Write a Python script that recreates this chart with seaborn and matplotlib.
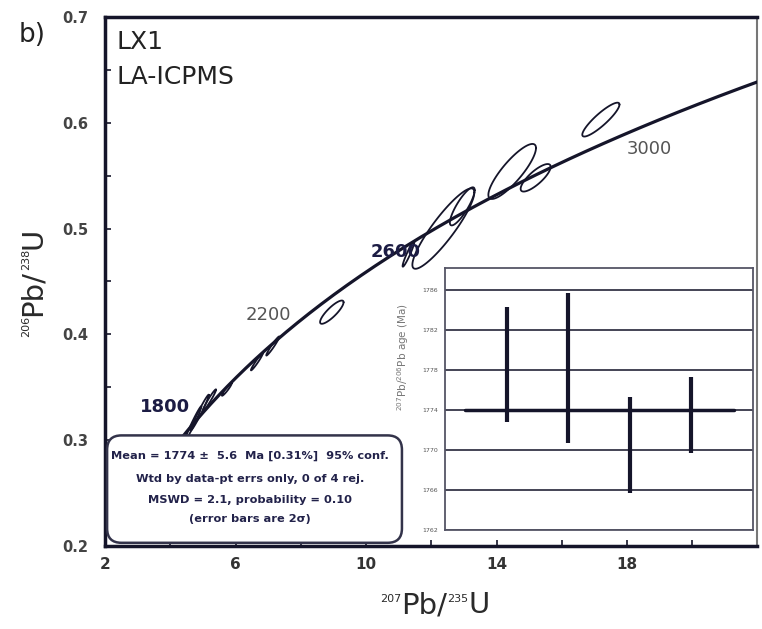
import numpy as np
import matplotlib
matplotlib.use("Agg")
import matplotlib.pyplot as plt
from matplotlib.patches import FancyBboxPatch
import seaborn as sns
import pandas as pd

sns.set_style("ticks")
plt.rcParams['font.family'] = ['DejaVu Sans']

# ---------------- data ----------------
# concordia ages (Ma) and decay constants
concordia_ages = np.arange(1500, 3301, 10)
lambda238 = 1.55125e-4   # per Ma
lambda235 = 9.8485e-4    # per Ma
label_ages = ["1800", "2200", "2600", "3000"]
label_x = [3.85, 7.0, 10.9, 18.7]
label_y = [0.331, 0.418, 0.478, 0.575]
label_bold = [True, False, True, False]

# error ellipses: centre x (207/235), centre y (206/238), half-extent x, half-extent y, rho
ell_x = [17.2, 14.48, 15.2, 12.37, 12.95, 11.3, 8.95, 7.14, 6.65, 5.73, 5.2, 4.9, 4.7]
ell_y = [0.603, 0.554, 0.548, 0.500, 0.521, 0.476, 0.421, 0.389, 0.374, 0.348, 0.338, 0.326, 0.316]
ell_sx = [0.57, 0.73, 0.46, 0.95, 0.38, 0.18, 0.36, 0.2, 0.18, 0.15, 0.2, 0.28, 0.25]
ell_sy = [0.016, 0.026, 0.013, 0.038, 0.018, 0.012, 0.011, 0.009, 0.008, 0.006, 0.010, 0.017, 0.016]
ell_rho = [0.89, 0.85, 0.80, 0.90, 0.85, 0.95, 0.85, 0.97, 0.97, 0.95, 0.97, 0.98, 0.98]

# weighted mean inset
wm_index = [1, 2, 3, 4]
wm_low = [1772.8, 1770.7, 1765.7, 1769.7]
wm_high = [1784.3, 1785.7, 1775.3, 1777.3]
wm_mean = 1774
inset_yticks = [1762, 1766, 1770, 1774, 1778, 1782, 1786]

box_lines = ["Mean = 1774 \u00b1  5.6  Ma [0.31%]  95% conf.",
             "Wtd by data-pt errs only, 0 of 4 rej.",
             "MSWD = 2.1, probability = 0.10",
             "(error bars are 2\u03c3)"]

xlabel_parts = [("207", True), ("Pb/", False), ("235", True), ("U", False)]
ylabel_parts = [("206", True), ("Pb/", False), ("238", True), ("U", False)]

ink = "#15152a"
lab_col = "#2a2a2a"

# ---------------- figure ----------------
fig = plt.figure(figsize=(7.62, 6.29), dpi=100)
ax = fig.add_axes([0.138, 0.132, 0.856, 0.841])

conc = pd.DataFrame({
    "x": np.exp(lambda235 * concordia_ages) - 1,
    "y": np.exp(lambda238 * concordia_ages) - 1,
})
sns.lineplot(data=conc, x="x", y="y", ax=ax, color=ink, lw=2.3, sort=False, zorder=3)

t = np.linspace(0, 2 * np.pi, 120)
for cx, cy, sx, sy, r in zip(ell_x, ell_y, ell_sx, ell_sy, ell_rho):
    ex = cx + sx * np.cos(t)
    ey = cy + sy * (r * np.cos(t) + np.sqrt(1 - r * r) * np.sin(t))
    ax.plot(ex, ey, color=ink, lw=1.3, zorder=4)

for lab, lx, ly, b in zip(label_ages, label_x, label_y, label_bold):
    ax.text(lx, ly, lab, ha="center", va="center", fontsize=13,
            fontweight="bold" if b else "normal",
            color="#1c1c44" if b else "#555555", zorder=5)

ax.set_xlim(2, 22)
ax.set_ylim(0.2, 0.7)
ax.set_xticks([2, 6, 10, 14, 18])
ax.set_xticks(np.arange(2, 22.1, 2), minor=True)
ax.set_yticks([0.2, 0.3, 0.4, 0.5, 0.6, 0.7])
ax.set_yticks(np.arange(0.2, 0.701, 0.05), minor=True)
ax.tick_params(axis="both", which="both", direction="in", length=4, width=1.2, colors=ink)
ax.tick_params(axis="x", labelsize=11, pad=8, labelcolor="#333333")
ax.tick_params(axis="y", labelsize=10.5, pad=12, labelcolor="#444444")
for lab in ax.get_xticklabels() + ax.get_yticklabels():
    lab.set_fontweight("bold")
for s in ["left", "bottom", "top"]:
    ax.spines[s].set_linewidth(2.5)
    ax.spines[s].set_color(ink)
ax.spines["right"].set_linewidth(1.5)
ax.spines["right"].set_color("#777777")
ax.set_xlabel("")
ax.set_ylabel("")

# x axis label built from pieces (small superscripts)
prev = None
for txt, sup in xlabel_parts:
    ypix = 27 if sup else 16
    fs = 8 if sup else 21
    if prev is None:
        prev = ax.annotate(txt, xy=(380, ypix), xycoords="figure pixels",
                           ha="left", va="baseline", fontsize=fs, color=lab_col)
    else:
        prev = ax.annotate(txt, xy=(1, ypix), xycoords=(prev, "figure pixels"),
                           ha="left", va="baseline", fontsize=fs, color=lab_col,
                           annotation_clip=False)

# y axis label built from pieces (rotated)
prev = None
for txt, sup in ylabel_parts:
    xpix = 29 if sup else 41
    fs = 8 if sup else 21
    if prev is None:
        prev = ax.annotate(txt, xy=(xpix, 292), xycoords="figure pixels",
                           ha="left", va="baseline", rotation=90,
                           rotation_mode="anchor", fontsize=fs, color=lab_col)
    else:
        prev = ax.annotate(txt, xy=(xpix, 1), xycoords=("figure pixels", prev),
                           ha="left", va="baseline", rotation=90,
                           rotation_mode="anchor", fontsize=fs, color=lab_col,
                           annotation_clip=False)

ax.text(0.018, 0.975, "LX1\nLA-ICPMS", transform=ax.transAxes, ha="left", va="top",
        fontsize=18, color="#222222", linespacing=1.55)
fig.text(0.025, 0.945, "b)", fontsize=19, color="#222222", ha="left", va="center")

# info box
box = FancyBboxPatch((0.003, 0.006), 0.452, 0.203,
                     boxstyle="round,pad=0,rounding_size=0.022",
                     mutation_aspect=652 / 529, transform=ax.transAxes,
                     facecolor="white", edgecolor="#33334a", lw=1.8, zorder=6)
ax.add_patch(box)
box_y = [0.170, 0.127, 0.087, 0.051]
for line, by in zip(box_lines, box_y):
    ax.text(0.222, by, line, transform=ax.transAxes, ha="center",
            va="center", fontsize=8.2, fontweight="bold", color="#22224a", zorder=7)

# inset
axi = fig.add_axes([0.138 + 0.856 * 0.521, 0.132 + 0.841 * 0.030,
                    0.856 * 0.472, 0.841 * 0.495])
axi.set_xlim(0, 5)
axi.set_ylim(1762, 1788.2)
for yv in inset_yticks:
    axi.axhline(yv, color="#444455", lw=1.4, zorder=1)
axi.plot([0.32, 4.7], [wm_mean, wm_mean], color=ink, lw=2.5, zorder=2)
axi.vlines(wm_index, wm_low, wm_high, color=ink, lw=3, zorder=3)
axi.set_yticks(inset_yticks)
axi.set_yticklabels([str(v) for v in inset_yticks])
axi.set_xticks([])
axi.tick_params(axis="y", labelsize=4.5, length=0, pad=5, labelcolor="#555555")
for s in axi.spines.values():
    s.set_color("#555566")
    s.set_linewidth(1.3)
axi.set_ylabel(r"$^{207}$Pb/$^{206}$Pb age (Ma)", fontsize=7.5, color="#777777", labelpad=4)
axi.yaxis.set_label_coords(-0.11, 0.66)

fig.savefig("out.png", dpi=100, facecolor="white")
